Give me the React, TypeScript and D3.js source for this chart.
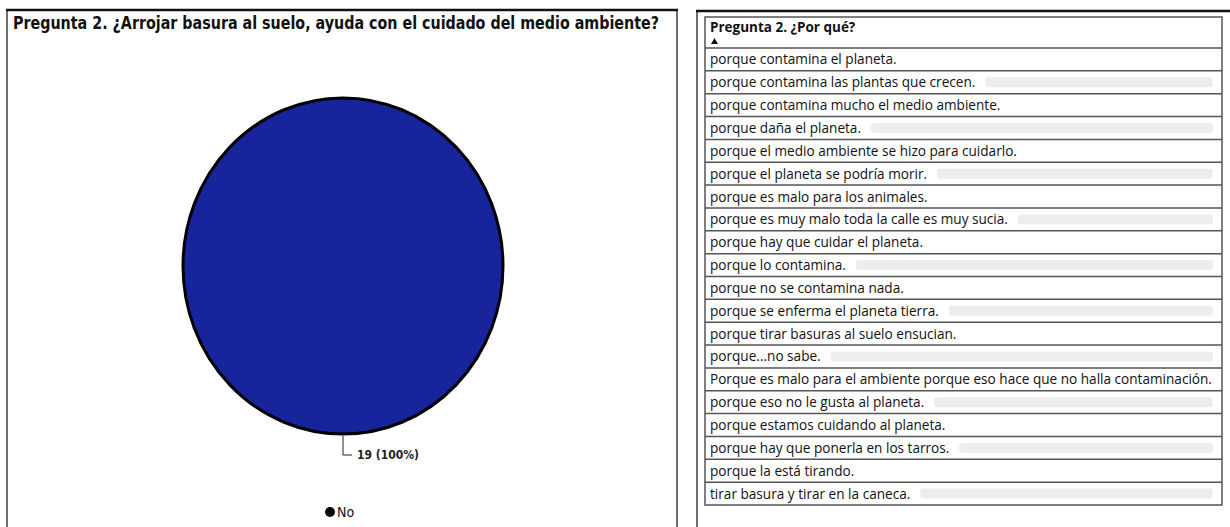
import { useEffect, useRef } from 'react';
import * as d3 from 'd3';

const categories = ['No'];
const values = [19];
const chartTitle = 'Pregunta 2. ¿Arrojar basura al suelo, ayuda con el cuidado del medio ambiente?';
const tableHeader = 'Pregunta 2. ¿Por qué?';
const reasons = [
  'porque contamina el planeta.',
  'porque contamina las plantas que crecen.',
  'porque contamina mucho el medio ambiente.',
  'porque daña el planeta.',
  'porque el medio ambiente se hizo para cuidarlo.',
  'porque el planeta se podría morir.',
  'porque es malo para los animales.',
  'porque es muy malo toda la calle es muy sucia.',
  'porque hay que cuidar el planeta.',
  'porque lo contamina.',
  'porque no se contamina nada.',
  'porque se enferma el planeta tierra.',
  'porque tirar basuras al suelo ensucian.',
  'porque...no sabe.',
  'Porque es malo para el ambiente porque eso hace que no halla contaminación.',
  'porque eso no le gusta al planeta.',
  'porque estamos cuidando al planeta.',
  'porque hay que ponerla en los tarros.',
  'porque la está tirando.',
  'tirar basura y tirar en la caneca.',
];

const colors = {
  pie: '#17249c',
  dark: '#111',
  border: '#6e6e6e',
  rowLine: '#555',
  ghost: '#ededed',
};

export default function App() {
  const ref = useRef<SVGSVGElement>(null);

  useEffect(() => {
    const svg = d3.select(ref.current);
    svg.selectAll('*').remove();

    // ---- left panel (pie) ----
    const left = svg.append('g');
    left
      .append('rect')
      .attr('x', 7)
      .attr('y', 10)
      .attr('width', 670)
      .attr('height', 540)
      .attr('fill', 'white')
      .attr('stroke', colors.border)
      .attr('stroke-width', 2);
    left
      .append('line')
      .attr('x1', 6)
      .attr('x2', 678)
      .attr('y1', 10)
      .attr('y2', 10)
      .attr('stroke', colors.dark)
      .attr('stroke-width', 2.5);

    left
      .append('text')
      .text(chartTitle)
      .attr('x', 13)
      .attr('y', 29)
      .attr('textLength', 646)
      .attr('lengthAdjust', 'spacingAndGlyphs')
      .style('font-family', '"DejaVu Sans Condensed", "DejaVu Sans"')
      .style('font-weight', 'bold')
      .style('font-size', '17.5px')
      .attr('fill', colors.dark);

    const cx = 343;
    const cy = 266;
    const radius = 160;
    const pieData = d3.pie<number>().sort(null)(values);
    const arc = d3.arc<d3.PieArcDatum<number>>().innerRadius(0).outerRadius(radius);

    const pieGroup = left
      .append('g')
      .attr('transform', `translate(${cx}, ${cy}) scale(1, 1.05)`);
    pieGroup
      .selectAll('path')
      .data(pieData)
      .enter()
      .append('path')
      .attr('d', arc)
      .attr('fill', colors.pie)
      .attr('stroke', 'black')
      .attr('stroke-width', 3);

    // leader + data label
    const bottomY = cy + radius * 1.05;
    const total = d3.sum(values);
    pieData.forEach(d => {
      const pct = Math.round((d.value / total) * 100);
      left
        .append('path')
        .attr('d', `M${cx},${bottomY + 2} V${bottomY + 21} H${cx + 9}`)
        .attr('fill', 'none')
        .attr('stroke', '#222')
        .attr('stroke-width', 1);
      left
        .append('text')
        .text(`${d.value} (${pct}%)`)
        .attr('x', cx + 14)
        .attr('y', bottomY + 25)
        .style('font-family', '"DejaVu Sans Condensed", "DejaVu Sans"')
        .style('font-size', '12px')
        .style('font-weight', 'bold')
        .attr('fill', '#222');
    });

    // legend
    const legendItem = left
      .selectAll('g.legend')
      .data(categories)
      .enter()
      .append('g')
      .attr('class', 'legend')
      .attr('transform', (d, i) => `translate(${330 + i * 60}, 512)`);
    legendItem.append('circle').attr('r', 5).attr('fill', 'black');
    legendItem
      .append('text')
      .text(d => d)
      .attr('x', 7)
      .attr('y', 5)
      .style('font-family', '"DejaVu Sans Condensed", "DejaVu Sans"')
      .style('font-size', '14px')
      .attr('fill', colors.dark);

    // ---- right panel (table) ----
    const right = svg.append('g');
    right
      .append('rect')
      .attr('x', 697)
      .attr('y', 11)
      .attr('width', 560)
      .attr('height', 540)
      .attr('fill', 'white')
      .attr('stroke', colors.border)
      .attr('stroke-width', 2);
    right
      .append('line')
      .attr('x1', 696)
      .attr('x2', 1230)
      .attr('y1', 11)
      .attr('y2', 11)
      .attr('stroke', colors.dark)
      .attr('stroke-width', 2.5);

    const tableLeft = 705;
    const tableRight = 1222;
    const headerTop = 17;
    const headerBottom = 48;
    const tableBottom = 505;

    const y = d3
      .scaleBand<number>()
      .domain(d3.range(reasons.length))
      .range([headerBottom, tableBottom]);

    right
      .append('rect')
      .attr('x', tableLeft)
      .attr('y', headerTop)
      .attr('width', tableRight - tableLeft)
      .attr('height', tableBottom - headerTop)
      .attr('fill', 'white')
      .attr('stroke', colors.rowLine)
      .attr('stroke-width', 1.5);

    right
      .append('text')
      .text(tableHeader)
      .attr('x', tableLeft + 5)
      .attr('y', headerTop + 15)
      .style('font-family', '"Open Sans", "Noto Sans"')
      .style('font-weight', 'bold')
      .style('font-size', '13.5px')
      .attr('fill', colors.dark);
    right
      .append('path')
      .attr('d', `M${tableLeft + 6},${headerTop + 27} l3.5,-6 l3.5,6 Z`)
      .attr('fill', colors.dark);

    const rows = right
      .selectAll('g.row')
      .data(reasons)
      .enter()
      .append('g')
      .attr('class', 'row')
      .attr('transform', (d, i) => `translate(0, ${y(i)})`);

    rows
      .append('line')
      .attr('x1', tableLeft)
      .attr('x2', tableRight)
      .attr('y1', 0)
      .attr('y2', 0)
      .attr('stroke', colors.rowLine)
      .attr('stroke-width', 1.5);

    const rowText = rows
      .append('text')
      .text(d => d)
      .attr('x', tableLeft + 5)
      .attr('y', y.bandwidth() / 2 + 5)
      .style('font-family', '"Open Sans", "Noto Sans"')
      .style('font-size', '13.6px')
      .attr('fill', colors.dark);

    // faint grey smear after every other answer
    rowText.each(function (d, i) {
      if (i % 2 === 0) return;
      const w = (this as SVGTextElement).getComputedTextLength();
      d3.select((this as SVGTextElement).parentNode as SVGGElement)
        .insert('rect', 'text')
        .attr('x', tableLeft + 5 + w + 10)
        .attr('y', y.bandwidth() / 2 - 5)
        .attr('width', tableRight - 9 - (tableLeft + 5 + w + 10))
        .attr('height', 10)
        .attr('rx', 3)
        .attr('fill', colors.ghost);
    });
  }, []);

  return (
    <svg
      ref={ref}
      width={1230}
      height={527}
      style={{ position: 'absolute', left: 0, top: 0, background: 'white' }}
    />
  );
}
